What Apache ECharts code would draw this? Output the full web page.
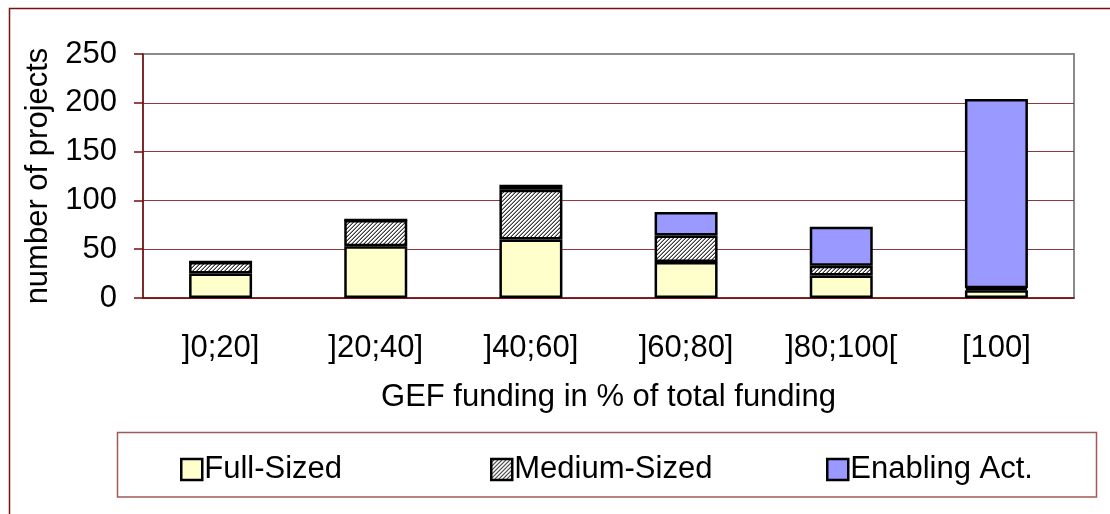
<!DOCTYPE html>
<html>
<head>
<meta charset="utf-8">
<script src="https://cdn.jsdelivr.net/npm/echarts@6/dist/echarts.min.js"></script>
<style>
  html, body { margin: 0; padding: 0; background: #fff; }
  #chart { width: 1110px; height: 514px; }
</style>
</head>
<body>
<div id="chart"></div>
<script>
const categories = [']0;20]', ']20;40]', ']40;60]', ']60;80]', ']80;100[', '[100]'];
const fullSized = [25, 53, 60, 37, 23, 8];
const mediumSized = [12, 27, 51, 27, 10, 2];
const enablingAct = [0, 0, 5, 24, 40, 194];
const yTicks = { min: 0, max: 250, interval: 50 };

const FONT = '"Liberation Sans", Arial, sans-serif';
const FS = 31;

// diagonal hatch pattern for Medium-Sized
function hatch() {
  const c = document.createElement('canvas');
  c.width = 4; c.height = 4;
  const ctx = c.getContext('2d');
  ctx.fillStyle = '#ffffff';
  ctx.fillRect(0, 0, 4, 4);
  for (let x = 0; x < 4; x++) {
    for (let y = 0; y < 4; y++) {
      const k = (x + y) % 4;
      if (k === 3) { ctx.fillStyle = '#3a3a3a'; ctx.fillRect(x, y, 1, 1); }
      else if (k === 2) { ctx.fillStyle = '#9a9a9a'; ctx.fillRect(x, y, 1, 1); }
    }
  }
  return c;
}

const chart = echarts.init(document.getElementById('chart'), null, { renderer: 'canvas' });
const barBase = {
  type: 'bar',
  stack: 'total',
  barWidth: 63,
  emphasis: { disabled: true }
};

const legendCommon = {
  top: 454,
  padding: 0,
  itemWidth: 21,
  itemHeight: 21,
  icon: 'rect',
  itemStyle: { borderColor: '#000', borderWidth: 2.5 },
  textStyle: { fontSize: FS, fontFamily: FONT, color: '#000', padding: [0, 0, 0, -3] },
  selectedMode: false
};

chart.setOption({
  animation: false,
  textStyle: { fontFamily: FONT },
  graphic: [
    { type: 'rect', shape: { x: 9.5, y: 8.5, width: 1200, height: 600 },
      style: { fill: null, stroke: '#7a1010', lineWidth: 1.5 }, silent: true, z: -10 },
    { type: 'rect', shape: { x: 117.5, y: 432.5, width: 979, height: 64.5 },
      style: { fill: '#fff', stroke: '#a05a5a', lineWidth: 1.5 }, silent: true, z: -5 }
  ],
  grid: {
    left: 143, right: 36, top: 54, bottom: 216,
    show: true, borderColor: '#8a8a8a', borderWidth: 2, backgroundColor: 'transparent'
  },
  legend: [
    Object.assign({}, legendCommon, { left: 180, data: ['Full-Sized'] }),
    Object.assign({}, legendCommon, { left: 490, data: ['Medium-Sized'] }),
    Object.assign({}, legendCommon, { left: 826, data: ['Enabling Act.'] })
  ],
  xAxis: {
    type: 'category',
    data: categories,
    name: 'GEF funding in % of total funding',
    nameLocation: 'middle',
    nameGap: 84,
    nameTextStyle: { fontSize: FS, fontFamily: FONT, color: '#000' },
    axisLine: { lineStyle: { color: '#7a0a0a', width: 1.5 } },
    axisTick: { length: 9, lineStyle: { color: '#7a0a0a', width: 1.5 } },
    axisLabel: { fontSize: FS, fontFamily: FONT, color: '#000', margin: 35 },
    splitLine: { show: false }
  },
  yAxis: {
    type: 'value',
    min: yTicks.min, max: yTicks.max, interval: yTicks.interval,
    name: 'number of projects',
    nameLocation: 'middle',
    nameGap: 79,
    nameTextStyle: { fontSize: FS, fontFamily: FONT, color: '#000' },
    axisLine: { show: true, lineStyle: { color: '#7a0a0a', width: 1.5 } },
    axisTick: { show: true, length: 9, lineStyle: { color: '#7a0a0a', width: 1.5 } },
    axisLabel: { fontSize: FS, fontFamily: FONT, color: '#000', margin: 26 },
    splitLine: { show: true, showMaxLine: false, lineStyle: { color: '#8e3a3a', width: 1.2 } }
  },
  series: [
    Object.assign({}, barBase, { name: 'Full-Sized', data: fullSized,
      itemStyle: { color: '#ffffcc', borderColor: '#000', borderWidth: 2.5 } }),
    Object.assign({}, barBase, { name: 'Medium-Sized', data: mediumSized,
      itemStyle: { color: { image: hatch(), repeat: 'repeat' }, borderColor: '#000', borderWidth: 2.5 } }),
    Object.assign({}, barBase, { name: 'Enabling Act.', data: enablingAct,
      itemStyle: { color: '#9999ff', borderColor: '#000', borderWidth: 2.5 } })
  ]
});
</script>
</body>
</html>
